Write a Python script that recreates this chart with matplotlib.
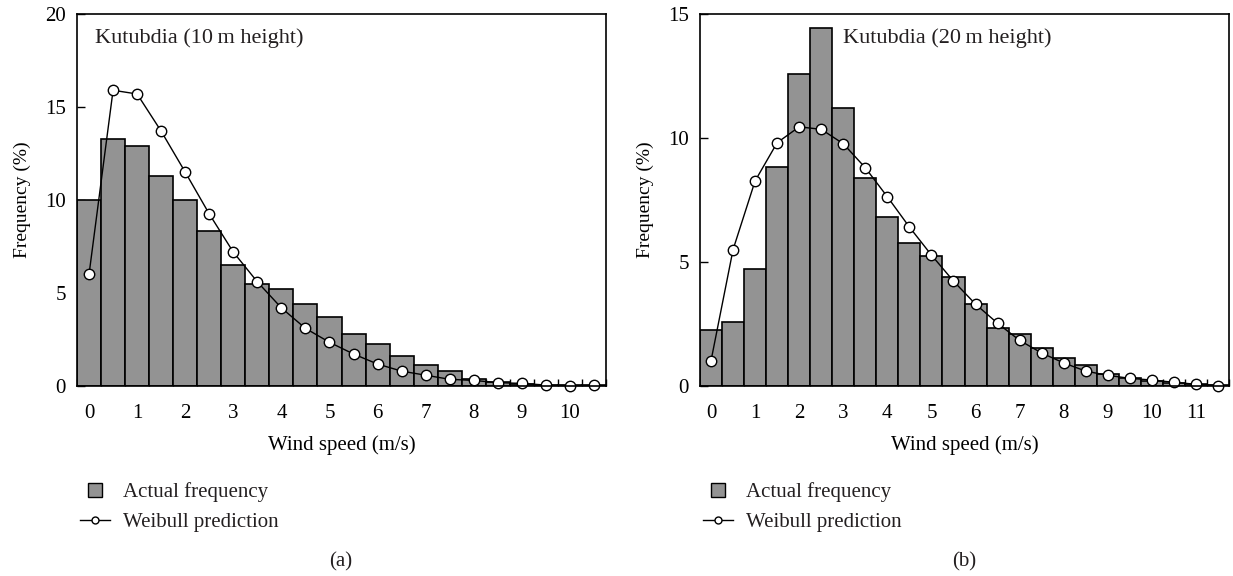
import matplotlib
matplotlib.use("Agg")
import matplotlib.pyplot as plt
from matplotlib.lines import Line2D
import numpy as np

plt.rcParams['font.family'] = ['Liberation Serif', 'DejaVu Serif']
plt.rcParams['font.size'] = 15
plt.rcParams['text.color'] = '#231f20'

# Wind speed bins (m/s), bin width 0.5
speed_10m = np.arange(0, 10.51, 0.5)
actual_10m = [10.0, 13.3, 12.9, 11.3, 10.0, 8.35, 6.5, 5.5, 5.2, 4.4, 3.7,
              2.8, 2.25, 1.6, 1.15, 0.8, 0.4, 0.22, 0.12, 0.08, 0.05, 0.03]
weibull_10m = [6.0, 15.9, 15.7, 13.7, 11.5, 9.25, 7.2, 5.6, 4.2, 3.1, 2.35,
               1.72, 1.18, 0.8, 0.58, 0.36, 0.3, 0.18, 0.14, 0.05, 0.02, 0.03]

speed_20m = np.arange(0, 11.51, 0.5)
actual_20m = [2.25, 2.57, 4.7, 8.85, 12.6, 14.45, 11.2, 8.37, 6.8, 5.75, 5.23,
              4.38, 3.3, 2.35, 2.08, 1.52, 1.14, 0.85, 0.48, 0.31, 0.21, 0.12,
              0.08, 0.05]
weibull_20m = [1.02, 5.5, 8.27, 9.81, 10.45, 10.35, 9.77, 8.8, 7.63, 6.41, 5.28,
               4.23, 3.3, 2.53, 1.84, 1.33, 0.93, 0.6, 0.43, 0.31, 0.24, 0.15,
               0.07, 0.02]

panels = [
    dict(x=speed_10m, bars=actual_10m, line=weibull_10m, ymax=20,
         title='Kutubdia (10\u2009m height)', tag='(a)', title_x=0.034),
    dict(x=speed_20m, bars=actual_20m, line=weibull_20m, ymax=15,
         title='Kutubdia (20\u2009m height)', tag='(b)', title_x=0.27),
]

BAR_COLOR = '#939393'

fig = plt.figure(figsize=(12.33, 5.76), dpi=100)
lefts = [77 / 1233, 700 / 1233]
for left, p in zip(lefts, panels):
    ax = fig.add_axes([left, 190 / 576, 529 / 1233, 372 / 576])
    x = p['x']
    ax.bar(x, p['bars'], width=0.5, color=BAR_COLOR, edgecolor='black',
           linewidth=1.2, zorder=2)
    ax.plot(x, p['line'], color='black', linewidth=1.0, marker='o',
            markersize=7.5, markerfacecolor='white', markeredgecolor='black',
            markeredgewidth=1.0, zorder=3, clip_on=False)

    ax.set_xlim(-0.25, x[-1] + 0.25)
    ax.set_ylim(0, p['ymax'])
    ax.set_yticks(np.arange(0, p['ymax'] + 1, 5))
    ax.set_xticks(np.arange(0, int(x[-1]) + 1))
    ax.set_xticks(np.arange(-0.25, x[-1] + 0.3, 0.5), minor=True)
    ax.tick_params(axis='x', which='major', length=0, pad=13, labelsize=15)
    ax.tick_params(axis='x', which='minor', direction='in', length=5,
                   width=1, color='black')
    ax.tick_params(axis='y', direction='in', length=6, width=1, pad=8,
                   labelsize=15)
    for s in ax.spines.values():
        s.set_linewidth(1.2)
        s.set_color('black')
        s.set_zorder(4)

    ax.set_xlabel('Wind speed (m/s)', fontsize=15, labelpad=9)
    ax.set_ylabel('Frequency (%)', fontsize=14, labelpad=10)
    ax.text(p['title_x'], 0.935, p['title'], transform=ax.transAxes,
            fontsize=16, ha='left', va='center')

    handles = [
        Line2D([], [], linestyle='none', marker='s', markersize=9.5,
               markerfacecolor=BAR_COLOR, markeredgecolor='black',
               markeredgewidth=1.0),
        Line2D([], [], color='black', linewidth=1.0, marker='o', markersize=5,
               markerfacecolor='white', markeredgecolor='black'),
    ]
    ax.legend(handles, ['Actual frequency', 'Weibull prediction'],
              loc='upper left', bbox_to_anchor=(left + 3 / 1233, 1 - 482 / 576),
              bbox_transform=fig.transFigure, frameon=False, fontsize=15,
              handlelength=1.45, handletextpad=0.6, labelspacing=0.5,
              borderpad=0, borderaxespad=0)

    fig.text(left + 264 / 1233, 1 - 562 / 576, p['tag'], ha='center',
             va='center', fontsize=15)

fig.savefig('out.png', dpi=100)
